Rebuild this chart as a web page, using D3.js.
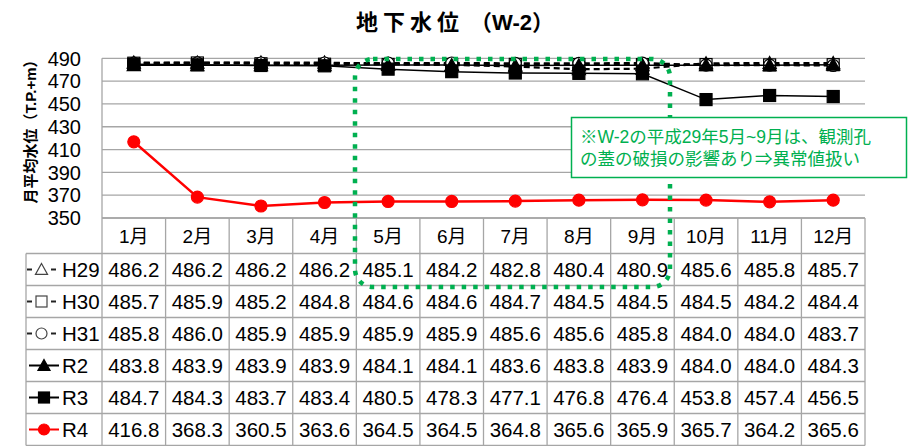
<!DOCTYPE html>
<html><head><meta charset="utf-8">
<script src="https://cdn.jsdelivr.net/npm/d3@7"></script>
<style>
body{margin:0;background:#fff;}
svg{display:block;}
text{font-family:"Liberation Sans","Noto Sans CJK JP",sans-serif;}
</style></head>
<body>
<svg id="c" width="910" height="446"></svg>
<script>
const months = ['1月','2月','3月','4月','5月','6月','7月','8月','9月','10月','11月','12月'];
const yTicks = [350,370,390,410,430,450,470,490];
const seriesNames = ['H29','H30','H31','R2','R3','R4'];
const h29 = [486.2,486.2,486.2,486.2,485.1,484.2,482.8,480.4,480.9,485.6,485.8,485.7];
const h30 = [485.7,485.9,485.2,484.8,484.6,484.6,484.7,484.5,484.5,484.5,484.2,484.4];
const h31 = [485.8,486.0,485.9,485.9,485.9,485.9,485.6,485.6,485.8,484.0,484.0,483.7];
const r2  = [483.8,483.9,483.9,483.9,484.1,484.1,483.6,483.8,483.9,484.0,484.0,484.3];
const r3  = [484.7,484.3,483.7,483.4,480.5,478.3,477.1,476.8,476.4,453.8,457.4,456.5];
const r4  = [416.8,368.3,360.5,363.6,364.5,364.5,364.8,365.6,365.9,365.7,364.2,365.6];
const seriesValues = [h29,h30,h31,r2,r3,r4];
const titleMain = '地下水位';
const titleSub = ' （W-2）';
const yTitle = '月平均水位（T.P.+m）';
const noteLines = ['※W-2の平成29年5月~9月は、観測孔','の蓋の破損の影響あり⇒異常値扱い'];

const styles = [
  {shape:'tri', fill:'#fff', stroke:'#000', dash:'6,4', color:'#000', lw:2.2},
  {shape:'sq', fill:'#fff', stroke:'#000', dash:'6,4', color:'#000', lw:2.2},
  {shape:'circ', fill:'#fff', stroke:'#000', dash:'6,4', color:'#000', lw:2.2},
  {shape:'tri', fill:'#000', stroke:'#000', dash:null, color:'#000', lw:1.5},
  {shape:'sq', fill:'#000', stroke:'#000', dash:null, color:'#000', lw:1.5},
  {shape:'circ', fill:'#ff0000', stroke:'#ff0000', dash:null, color:'#ff0000', lw:2.5}
];

const svg = d3.select('#c');
const pLeft = 102, pRight = 865, pTop = 58.3, pBottom = 218;
const x = d3.scaleBand().domain(months).range([pLeft,pRight]);
const y = d3.scaleLinear().domain([350,490]).range([pBottom,pTop]);
const rowH = 32, headerBottom = 253.5, tableLeft = 26;
const grid = '#a6a6a6';

// title
const tt = svg.append('text').attr('x',455).attr('y',30).attr('text-anchor','middle')
  .attr('font-size',22).attr('font-weight','bold')
  .attr('font-family','"Noto Sans CJK JP",sans-serif');
tt.append('tspan').attr('letter-spacing',5).text(titleMain);
tt.append('tspan').attr('letter-spacing',0).text(titleSub);

// gridlines
svg.append('g').selectAll('line').data(yTicks).join('line')
  .attr('x1',pLeft).attr('x2',pRight).attr('y1',d=>y(d)).attr('y2',d=>y(d))
  .attr('stroke',grid).attr('stroke-width',1.3);
svg.append('line').attr('x1',pLeft).attr('x2',pLeft).attr('y1',pTop).attr('y2',pBottom)
  .attr('stroke',grid).attr('stroke-width',1.3);

// y tick labels
svg.append('g').selectAll('text').data(yTicks).join('text')
  .attr('x',81).attr('y',d=>y(d)).attr('dy','0.36em').attr('text-anchor','end')
  .attr('font-size',20).attr('fill','#000').text(d=>d);

// y title
svg.append('text').attr('transform','translate(36,128) rotate(-90)')
  .attr('text-anchor','middle').attr('font-size',15).attr('font-weight','bold')
  .attr('font-family','"Noto Sans CJK JP",sans-serif').text(yTitle);

// marker drawer
function marker(g, shape, cx, cy, s, fill, stroke){
  if(shape==='tri'){
    g.append('path').attr('d',`M${cx},${cy-s*0.55}L${cx+s*0.55},${cy+s*0.45}L${cx-s*0.55},${cy+s*0.45}Z`)
      .attr('fill',fill).attr('stroke',stroke).attr('stroke-width',1.2);
  } else if(shape==='sq'){
    g.append('rect').attr('x',cx-s/2).attr('y',cy-s/2).attr('width',s).attr('height',s)
      .attr('fill',fill).attr('stroke',stroke).attr('stroke-width',1.2);
  } else {
    g.append('circle').attr('cx',cx).attr('cy',cy).attr('r',s/2)
      .attr('fill',fill).attr('stroke',stroke).attr('stroke-width',1.2);
  }
}

// series
const line = d3.line().x((d,i)=>x(months[i])+x.bandwidth()/2).y(d=>y(d));
seriesValues.forEach((vals,k)=>{
  const st = styles[k];
  const g = svg.append('g');
  g.append('path').attr('d',line(vals)).attr('fill','none').attr('stroke',st.color)
    .attr('stroke-width',st.lw).attr('stroke-dasharray',st.dash);
  vals.forEach((v,i)=>marker(g, st.shape, x(months[i])+x.bandwidth()/2, y(v), 12, st.fill, st.stroke));
});

// table
const tg = svg.append('g');
months.forEach((m,i)=>{
  tg.append('line').attr('x1',x(m)).attr('x2',x(m)).attr('y1',pBottom).attr('y2',headerBottom+rowH*6)
    .attr('stroke',grid).attr('stroke-width',1.3);
});
tg.append('line').attr('x1',pRight).attr('x2',pRight).attr('y1',pBottom).attr('y2',headerBottom+rowH*6)
  .attr('stroke',grid).attr('stroke-width',1.3);
tg.append('line').attr('x1',pLeft).attr('x2',pRight).attr('y1',pBottom).attr('y2',pBottom)
  .attr('stroke',grid).attr('stroke-width',1.3);
tg.append('line').attr('x1',tableLeft).attr('x2',tableLeft).attr('y1',headerBottom).attr('y2',headerBottom+rowH*6)
  .attr('stroke',grid).attr('stroke-width',1.3);
for(let r=0;r<=6;r++){
  tg.append('line').attr('x1',tableLeft).attr('x2',pRight).attr('y1',headerBottom+rowH*r).attr('y2',headerBottom+rowH*r)
    .attr('stroke',grid).attr('stroke-width',1.3);
}
tg.selectAll('text.m').data(months).join('text').attr('class','m')
  .attr('x',d=>x(d)+x.bandwidth()/2).attr('y',(pBottom+headerBottom)/2).attr('dy','0.36em')
  .attr('text-anchor','middle').attr('font-size',19).text(d=>d);
seriesValues.forEach((vals,k)=>{
  const cy = headerBottom + rowH*k + rowH/2;
  vals.forEach((v,i)=>{
    tg.append('text').attr('x',x(months[i])+x.bandwidth()/2).attr('y',cy).attr('dy','0.36em')
      .attr('text-anchor','middle').attr('font-size',20.5).text(v.toFixed(1));
  });
  const st = styles[k];
  if(st.dash){
    tg.append('line').attr('x1',27).attr('x2',32).attr('y1',cy).attr('y2',cy).attr('stroke','#222').attr('stroke-width',2);
    tg.append('line').attr('x1',51).attr('x2',56).attr('y1',cy).attr('y2',cy).attr('stroke','#222').attr('stroke-width',2);
    marker(tg, st.shape, 41.5, cy, 11, '#fff', '#444');
  } else {
    tg.append('line').attr('x1',29).attr('x2',59).attr('y1',cy).attr('y2',cy).attr('stroke',st.color).attr('stroke-width',2);
    marker(tg, st.shape, 44, cy, 11, st.fill, st.stroke);
  }
  tg.append('text').attr('x',62).attr('y',cy).attr('dy','0.36em').attr('font-size',20.5).text(seriesNames[k]);
});

// green dotted highlight
svg.append('rect').attr('x',355).attr('y',59).attr('width',315).attr('height',228).attr('rx',18)
  .attr('fill','none').attr('stroke','#00b050').attr('stroke-width',4.5).attr('stroke-dasharray','4.5,7');

// note box
svg.append('rect').attr('x',571.5).attr('y',117.5).attr('width',335).attr('height',60)
  .attr('fill','#fff').attr('stroke','#00b050').attr('stroke-width',1.5);
svg.append('g').selectAll('text').data(noteLines).join('text')
  .attr('x',580).attr('y',(d,i)=>143+i*22).attr('font-size',17.5).attr('fill','#00b050')
  .attr('font-family','"Noto Sans CJK JP",sans-serif').text(d=>d);
</script>
</body></html>
